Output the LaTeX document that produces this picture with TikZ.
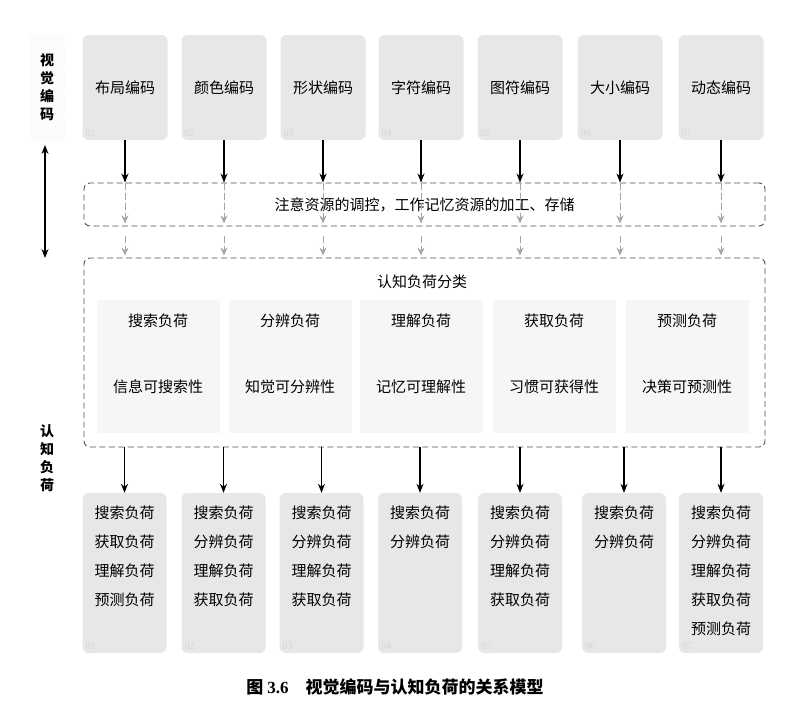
\documentclass[tikz,border=0pt]{standalone}
\usepackage{fontspec}
\setmainfont{Noto Sans CJK SC}
\newfontfamily\latinfont{Liberation Serif}
\usetikzlibrary{positioning,patterns,arrows.meta}
\definecolor{boxgray}{RGB}{230,232,231}
\definecolor{loadgray}{RGB}{245,246,246}
\definecolor{dashgray}{RGB}{80,80,80}
\definecolor{arrowgray}{RGB}{165,165,165}
\definecolor{numgray}{RGB}{212,214,214}
\begin{document}
\begin{tikzpicture}[x=1pt, y=-1pt, font=\fontsize{15}{18}\selectfont, line join=round, >={Stealth[length=9pt,width=7pt]},
	codebox/.style={fill=boxgray, rounded corners=6pt, minimum width=85pt, minimum height=105pt, inner sep=0pt},
	resbox/.style={fill=boxgray, rounded corners=6pt, minimum width=84pt, minimum height=160pt, inner sep=0pt},
	loadbox/.style={fill=loadgray, minimum width=123pt, minimum height=133pt, inner sep=0pt},
	dashbox/.style={draw=dashgray, line width=0.9pt, dash pattern=on 6pt off 3.5pt, rounded corners=6pt, minimum width=681pt, inner sep=0pt},
	restext/.style={align=center, inner sep=0pt, font=\fontsize{15}{29}\selectfont},
	sidelabel/.style={align=center, inner sep=0pt, font=\bfseries\fontsize{14}{18}\selectfont},
	numtag/.style={text=numgray, font=\latinfont\fontsize{10}{10}\selectfont, anchor=south west, inner sep=3pt},
	grayarrow/.style={->, draw=arrowgray, fill=arrowgray, line width=0.9pt, >={Stealth[length=8pt,width=7pt]}}]
	\useasboundingbox (0,0) rectangle (811,713);
	% hatching behind the upper side label
	\fill[pattern=north east lines, pattern color=gray!9] (30,35) rectangle (65,140);
	\node[sidelabel] (codelabel) at (47,87) {视\\觉\\编\\码};
	\node[sidelabel] (loadlabel) at (47,458) {认\\知\\负\\荷};
	\coordinate (vtop) at (45,145);
	\coordinate (vbot) at (45,258);
	\draw[<->, line width=1.2pt] (vtop) -- (vbot);
	% visual codes
	\foreach \x/\t [count=\i] in {125/布局编码, 224/颜色编码, 323/形状编码, 421/字符编码, 520/图符编码, 620/大小编码, 721/动态编码}
	{
		\node[codebox] (code\i) at (\x,87.5) {\t};
		\node[numtag] at (code\i.south west) {0\i};
	}
	\node[dashbox, minimum height=43pt] (ctrl) at (424.5,204.5) {注意资源的调控，工作记忆资源的加工、存储};
	\node[dashbox, minimum height=189pt] (cls) at (424.5,352.5) {};
	\node (clstitle) at (422,282) {认知负荷分类};
	\foreach \x/\a/\b [count=\i] in {158/搜索负荷/信息可搜索性, 290/分辨负荷/知觉可分辨性, 421/理解负荷/记忆可理解性, 554/获取负荷/习惯可获得性, 687/预测负荷/决策可预测性}
	{
		\node[loadbox] (load\i) at (\x,366.5) {};
		\node (loadname\i) at (\x,321) {\a};
		\node (loadprop\i) at (\x,387) {\b};
	}
	% cognitive loads of each code
	\foreach \x/\t [count=\i] in {124.5/{搜索负荷\\获取负荷\\理解负荷\\预测负荷}, 223.5/{搜索负荷\\分辨负荷\\理解负荷\\获取负荷}, 321.5/{搜索负荷\\分辨负荷\\理解负荷\\获取负荷}, 420/{搜索负荷\\分辨负荷}, 520/{搜索负荷\\分辨负荷\\理解负荷\\获取负荷}, 624/{搜索负荷\\分辨负荷}, 721/{搜索负荷\\分辨负荷\\理解负荷\\获取负荷\\预测负荷}}
	{
		\node[resbox] (res\i) at (\x,573) {};
		\node[restext, below=13pt of res\i.north] (restext\i) {\t};
		\node[numtag] at (res\i.south west) {0\i};
	}
	\foreach \i in {1,...,7}
	{
		\draw[->, line width=1.1pt] (code\i.south) -- (code\i.south |- ctrl.north);
		\draw[grayarrow, dash pattern=on 7pt off 3pt, shorten >=3pt] (code\i.south |- ctrl.north) -- (code\i.south |- ctrl.south);
		\draw[grayarrow, dash pattern=on 7pt off 3pt, shorten <=10pt, shorten >=2pt] (code\i.south |- ctrl.south) -- (code\i.south |- cls.north);
		\draw[->, line width=1.1pt] (res\i.north |- cls.south) -- (res\i.north);
	}
	\node[font=\bfseries\fontsize{17}{17}\selectfont] (caption) at (395,687) {图 {\latinfont 3.6}\quad 视觉编码与认知负荷的关系模型};
\end{tikzpicture}
\end{document}
